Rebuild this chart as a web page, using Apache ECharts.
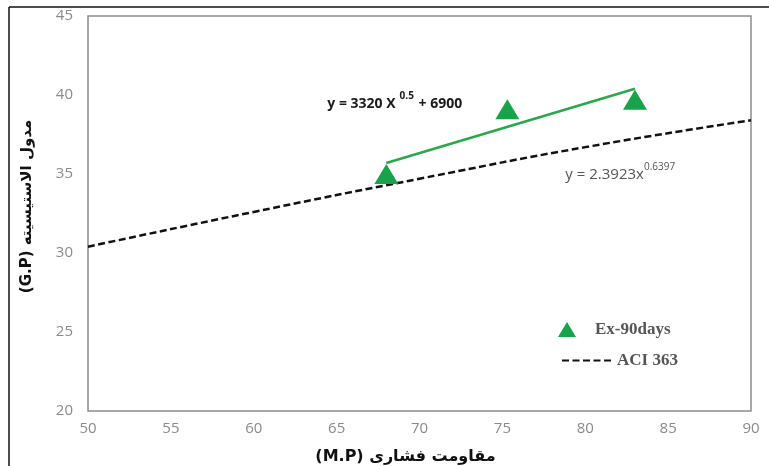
<!DOCTYPE html>
<html>
<head>
<meta charset="utf-8">
<script src="https://cdn.jsdelivr.net/npm/echarts@6/dist/echarts.min.js"></script>
<style>html,body{margin:0;padding:0;background:#fff}#c{width:769px;height:466px}</style>
</head>
<body>
<div id="c"></div>
<script>
// Data
const xTicks = [50, 55, 60, 65, 70, 75, 80, 85, 90];
const yTicks = [20, 25, 30, 35, 40, 45];
const expX = [68, 75.3, 83];
const expY = [35, 39.1, 39.7];
const fitX = [68, 83];
const fitY = [35.7, 40.4];
const aciX = [50, 60, 70, 80, 90];
const aciY = [30.4, 32.6, 34.7, 36.7, 38.4];
const xTitle = '(M.P) مقاومت فشاری';
const yTitle = '(G.P) مدول الاستیسیته';
const eq1 = 'y = 3320 X';
const eq1sup = '0.5';
const eq1tail = ' + 6900';
const eq2 = 'y = 2.3923x';
const eq2sup = '0.6397';

const zip = (a, b) => a.map((v, i) => [v, b[i]]);

const chart = echarts.init(document.getElementById('c'), null, {renderer: 'canvas'});
const green = '#17a34a';
chart.setOption({
  animation: false,
  backgroundColor: '#fff',
  grid: {left: 88, right: 18, top: 16, bottom: 55, show: true, borderColor: '#8c8c8c', borderWidth: 1.5,
         containLabel: false, outerBoundsMode: 'none'},
  xAxis: {
    type: 'value', min: xTicks[0], max: xTicks[xTicks.length - 1], interval: 5,
    axisLine: {show: false}, axisTick: {show: false}, splitLine: {show: false},
    axisLabel: {color: '#8a8a8a', fontSize: 15, fontFamily: 'Open Sans', margin: 10},
    name: xTitle, nameLocation: 'middle', nameGap: 38,
    nameTextStyle: {fontFamily: 'DejaVu Sans', fontWeight: 'bold', fontSize: 16, color: '#111', padding: [0, 28, 0, 0]}
  },
  yAxis: {
    type: 'value', min: yTicks[0], max: yTicks[yTicks.length - 1], interval: 5,
    axisLine: {show: false}, axisTick: {show: false}, splitLine: {show: false},
    axisLabel: {color: '#8a8a8a', fontSize: 15, fontFamily: 'Open Sans', margin: 15},
    name: yTitle, nameLocation: 'middle', nameGap: 53, nameRotate: 90,
    nameTextStyle: {fontFamily: 'DejaVu Sans', fontWeight: 'bold', fontSize: 15, color: '#111', padding: [0, 0, 0, 14]}
  },
  legend: [
    {
      data: ['Ex-90days'], left: 553, top: 316, itemWidth: 18, itemHeight: 15,
      textStyle: {fontFamily: 'Liberation Serif', fontWeight: 'bold', fontSize: 17, color: '#555', padding: [0, 0, 0, 14]}
    },
    {
      data: ['ACI 363'], left: 556, top: 347, itemWidth: 50, itemHeight: 15,
      itemStyle: {opacity: 0},
      textStyle: {fontFamily: 'Liberation Serif', fontWeight: 'bold', fontSize: 17, color: '#555'}
    }
  ],
  graphic: [
    {type: 'line', shape: {x1: 9, y1: 7, x2: 769, y2: 7}, style: {stroke: '#111', lineWidth: 1.5}},
    {type: 'line', shape: {x1: 9, y1: 7, x2: 9, y2: 466}, style: {stroke: '#111', lineWidth: 1.5}}
  ],
  series: [
    {
      name: 'ACI 363', type: 'line', data: zip(aciX, aciY), smooth: true, symbol: 'none',
      lineStyle: {color: '#111', width: 2.5, type: [7, 3.5]}, itemStyle: {color: '#111'}, z: 2,
      markPoint: {
        symbol: 'rect', symbolSize: 0,
        data: [{
          coord: [78.8, 35.13],
          label: {
            show: true, position: 'inside', align: 'left', verticalAlign: 'middle',
            formatter: '{a|' + eq2 + '}{s|' + eq2sup + '}',
            rich: {
              a: {fontFamily: 'Open Sans', fontSize: 15, color: '#555', lineHeight: 20, verticalAlign: 'bottom'},
              s: {fontFamily: 'Open Sans', fontSize: 10, color: '#555', lineHeight: 20, verticalAlign: 'top'}
            }
          }
        }]
      }
    },
    {
      name: 'fit', type: 'line', data: zip(fitX, fitY), symbol: 'none',
      lineStyle: {color: '#2aa84a', width: 2.5}, z: 3,
      markPoint: {
        symbol: 'rect', symbolSize: 0,
        data: [{
          coord: [64.44, 39.6],
          label: {
            show: true, position: 'inside', align: 'left', verticalAlign: 'middle',
            formatter: '{a|' + eq1 + '}{s|' + eq1sup + '}{a|' + eq1tail + '}',
            rich: {
              a: {fontFamily: 'Open Sans', fontWeight: 'bold', fontSize: 14, color: '#1a1a1a', lineHeight: 20, verticalAlign: 'bottom'},
              s: {fontFamily: 'Open Sans', fontWeight: 'bold', fontSize: 10, color: '#1a1a1a', lineHeight: 20, verticalAlign: 'top', padding: [0, 1, 0, 4]}
            }
          }
        }]
      }
    },
    {
      name: 'Ex-90days', type: 'scatter', data: zip(expX, expY), symbol: 'triangle', symbolSize: [24, 20],
      itemStyle: {color: green, opacity: 1}, z: 4
    }
  ]
});
</script>
</body>
</html>
